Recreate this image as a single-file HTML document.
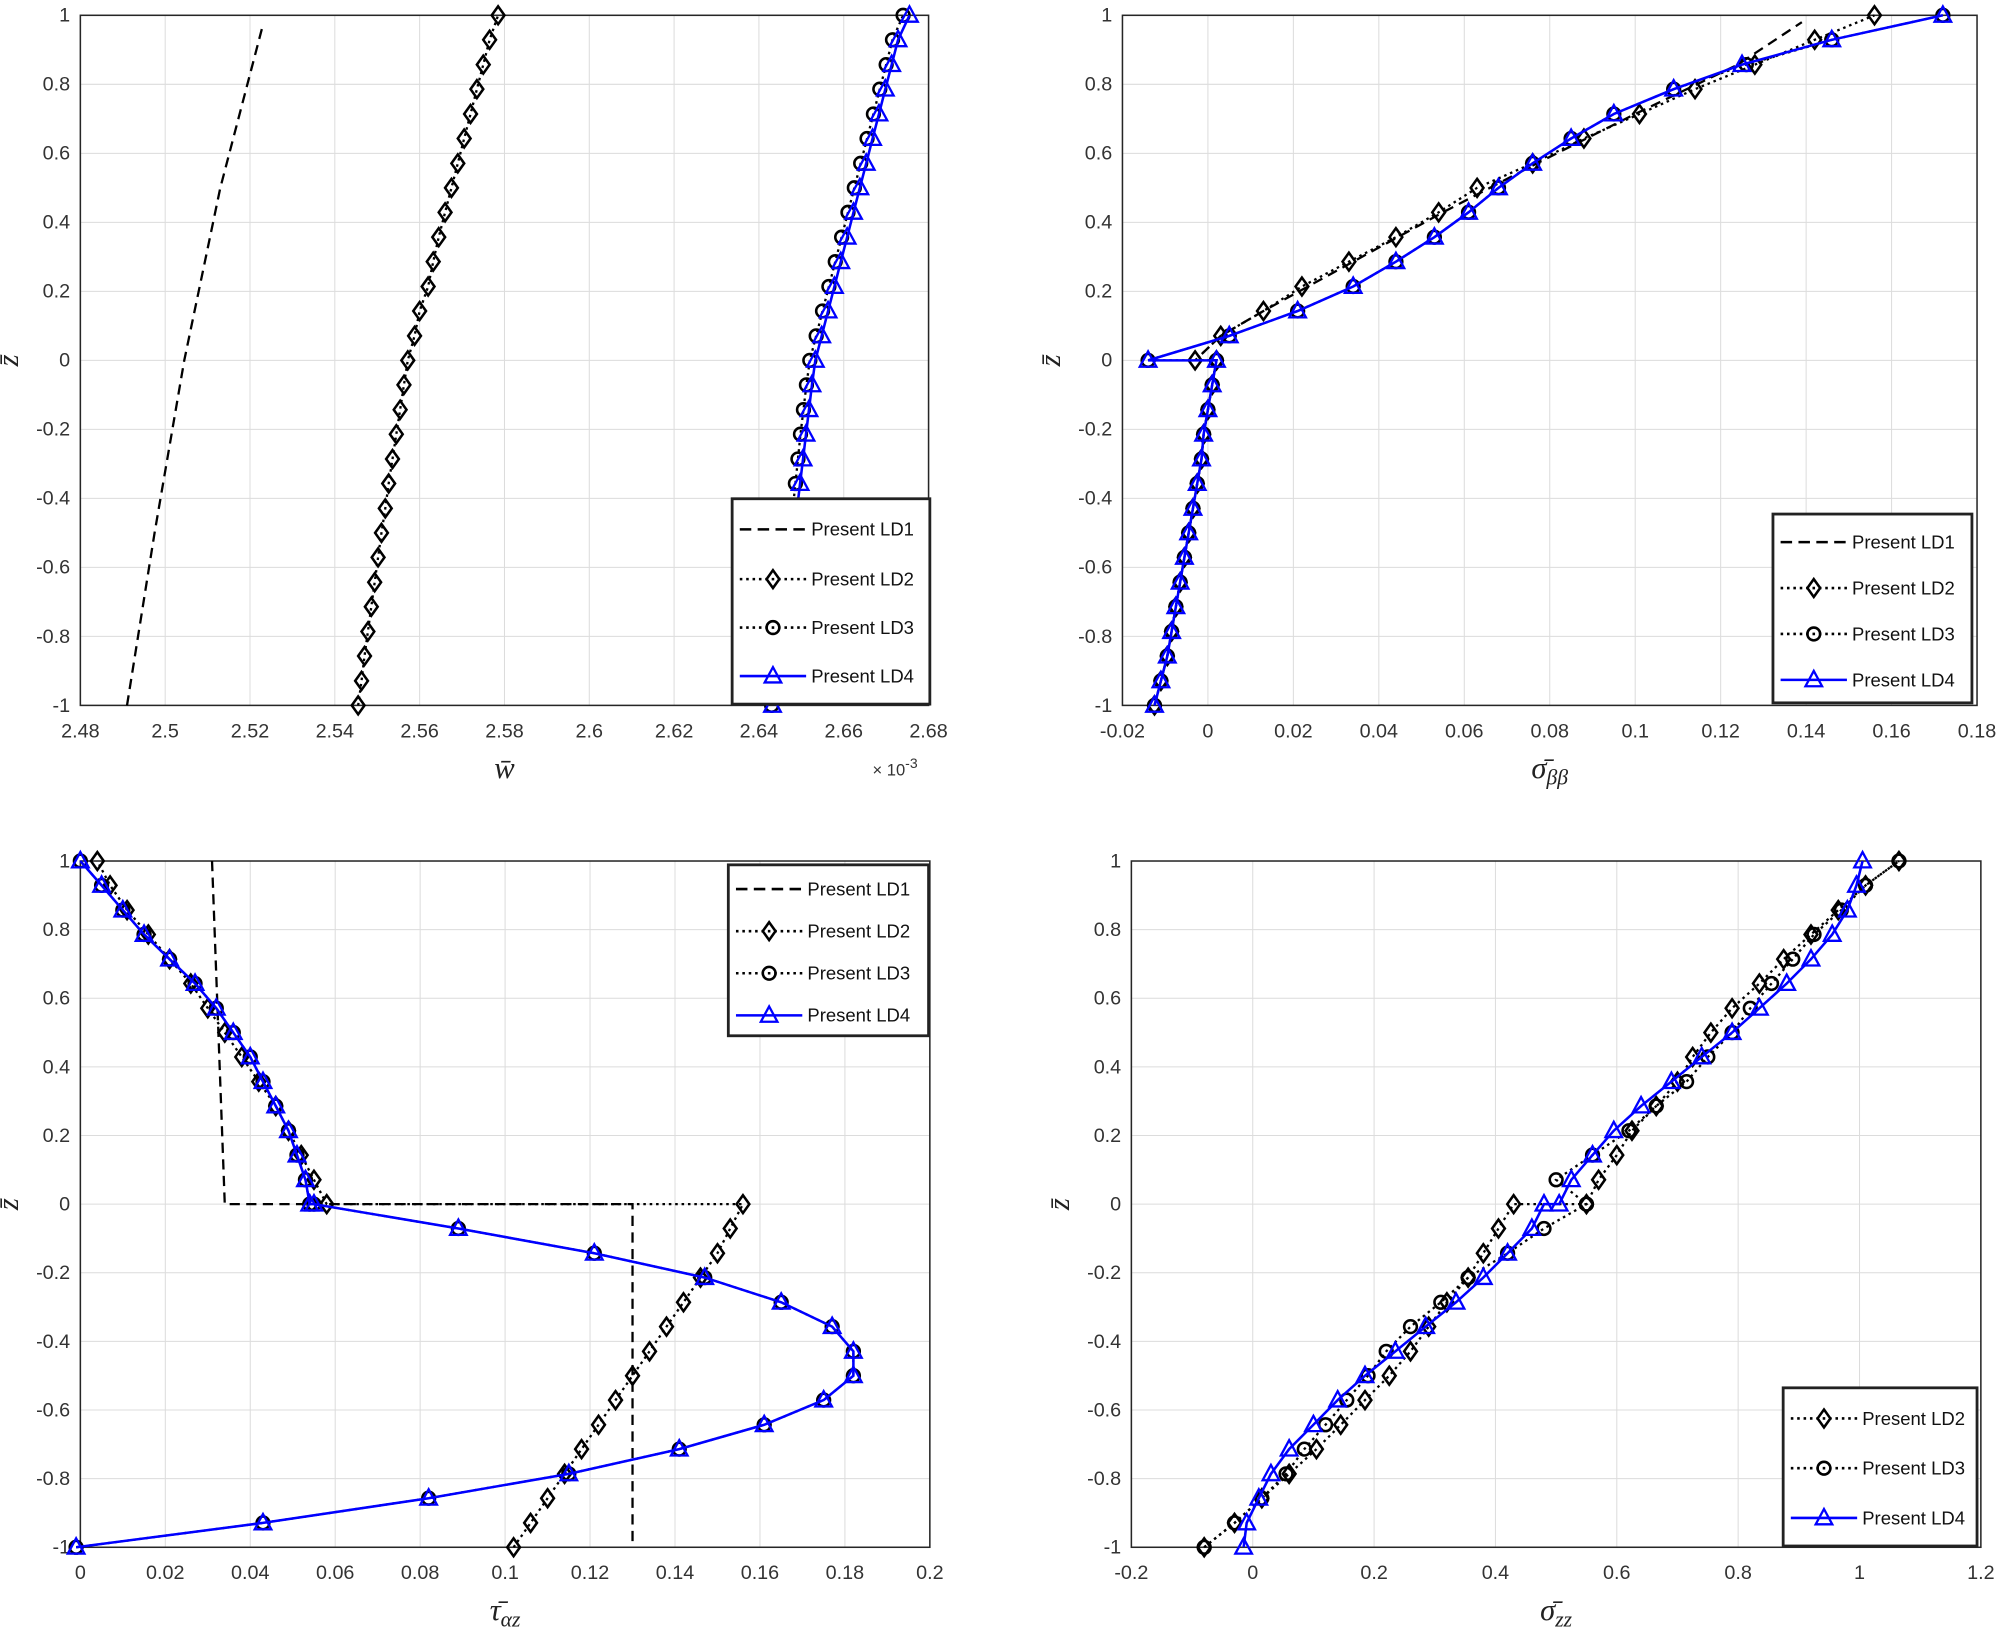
<!DOCTYPE html>
<html><head><meta charset="utf-8"><style>
html,body{margin:0;padding:0;background:#fff;}
svg{display:block;font-family:"Liberation Sans",sans-serif;}
</style></head><body>
<svg id="fig" width="2000" height="1627" viewBox="0 0 1568 1275.5" preserveAspectRatio="none" xmlns="http://www.w3.org/2000/svg"></svg>
<script>
// shared z grids
const zUp = [0,0.071,0.143,0.214,0.286,0.357,0.429,0.5,0.571,0.643,0.714,0.786,0.857,0.929,1];
const zDown = [-1,-0.929,-0.857,-0.786,-0.714,-0.643,-0.571,-0.5,-0.429,-0.357,-0.286,-0.214,-0.143,-0.071,0];

// Panel 1 (w bar, x1e-3)
const p1LD1z = [-1,-0.5,0,0.5,0.97];
const p1LD1 = [2.491,2.4975,2.5045,2.513,2.523];
const p1LD2Down = [2.5455,2.5463,2.5470,2.5478,2.5486,2.5494,2.5502,2.5510,2.5519,2.5527,2.5536,2.5545,2.5554,2.5563,2.5572];
const p1LD2Up = [2.5572,2.5588,2.5600,2.5620,2.5632,2.5645,2.5660,2.5675,2.5690,2.5705,2.5720,2.5735,2.5750,2.5765,2.5785];
const p1LD3Down = [2.6430,2.6437,2.6443,2.6450,2.6456,2.6462,2.6468,2.6474,2.6480,2.6486,2.6492,2.6498,2.6505,2.6512,2.6520];
const p1LD3Up = [2.6520,2.6535,2.6550,2.6565,2.6580,2.6595,2.6610,2.6625,2.6640,2.6655,2.6670,2.6685,2.6700,2.6715,2.6740];
const p1LD4Down = [2.6432,2.6445,2.6452,2.6459,2.6466,2.6472,2.6478,2.6484,2.6490,2.6497,2.6504,2.6511,2.6518,2.6525,2.6533];
const p1LD4Up = [2.6533,2.6548,2.6563,2.6578,2.6593,2.6608,2.6623,2.6638,2.6653,2.6668,2.6683,2.6698,2.6713,2.6728,2.6755];

// Panel 2 (sigma beta beta)
const p2Down = [-0.0125,-0.011,-0.0095,-0.0085,-0.0075,-0.0065,-0.0055,-0.0045,-0.0035,-0.0025,-0.0015,-0.001,0,0.001,0.002];
const p2LD1z = [0,0.071,0.143,0.286,0.429,0.571,0.714,0.857,0.98];
const p2LD1 = [-0.003,0.003,0.013,0.034,0.055,0.077,0.100,0.124,0.139];
const p2LD2Up = [-0.003,0.003,0.013,0.022,0.033,0.044,0.054,0.063,0.076,0.088,0.101,0.114,0.128,0.142,0.156];
const p2LD3Up = [-0.014,0.005,0.021,0.034,0.044,0.053,0.061,0.068,0.076,0.085,0.095,0.109,0.126,0.146,0.172];
const p2LD4Up = [-0.014,0.005,0.021,0.034,0.044,0.053,0.061,0.068,0.076,0.085,0.095,0.109,0.125,0.146,0.172];

// Panel 3 (tau alpha z)
const p3LD1z = [1,0,0,-1];
const p3LD1 = [0.031,0.034,0.130,0.130];
const p3LD2Up = [0.058,0.055,0.052,0.049,0.046,0.042,0.038,0.034,0.030,0.026,0.021,0.016,0.011,0.007,0.004];
const p3LD2Down = [0.102,0.106,0.110,0.114,0.118,0.122,0.126,0.130,0.134,0.138,0.142,0.146,0.150,0.153,0.156];
const p3LD3Up = [0.054,0.053,0.051,0.049,0.046,0.043,0.040,0.036,0.032,0.027,0.021,0.015,0.010,0.005,0];
const p3LD3Down = [-0.001,0.043,0.082,0.115,0.141,0.161,0.175,0.182,0.182,0.177,0.165,0.147,0.121,0.089,0.055];
const p3LD4Up = [0.054,0.053,0.051,0.049,0.046,0.043,0.040,0.036,0.032,0.027,0.021,0.015,0.010,0.005,0];
const p3LD4Down = [-0.001,0.043,0.082,0.115,0.141,0.161,0.175,0.182,0.182,0.177,0.165,0.147,0.121,0.089,0.055];

// Panel 4 (sigma zz)
const p4LD2Down = [-0.08,-0.03,0.015,0.06,0.105,0.145,0.185,0.225,0.26,0.29,0.32,0.355,0.38,0.405,0.43];
const p4LD2Up = [0.55,0.57,0.60,0.625,0.665,0.70,0.725,0.755,0.79,0.835,0.875,0.92,0.965,1.01,1.065];
const p4LD3Down = [-0.08,-0.03,0.015,0.055,0.085,0.12,0.155,0.19,0.22,0.26,0.31,0.355,0.42,0.48,0.55];
const p4LD3Up = [0.55,0.50,0.56,0.62,0.665,0.715,0.75,0.79,0.82,0.855,0.89,0.925,0.97,1.01,1.065];
const p4LD4Down = [-0.015,-0.01,0.01,0.03,0.06,0.10,0.14,0.185,0.235,0.285,0.335,0.38,0.42,0.46,0.48];
const p4LD4Up = [0.505,0.525,0.56,0.595,0.64,0.69,0.74,0.79,0.835,0.88,0.92,0.955,0.98,0.995,1.005];

const p1Ticks = ['2.48','2.5','2.52','2.54','2.56','2.58','2.6','2.62','2.64','2.66','2.68'];
const p2Ticks = ['-0.02','0','0.02','0.04','0.06','0.08','0.1','0.12','0.14','0.16','0.18'];
const p3Ticks = ['0','0.02','0.04','0.06','0.08','0.1','0.12','0.14','0.16','0.18','0.2'];
const p4Ticks = ['-0.2','0','0.2','0.4','0.6','0.8','1','1.2'];
const yTicks = ['-1','-0.8','-0.6','-0.4','-0.2','0','0.2','0.4','0.6','0.8','1'];

const NS='http://www.w3.org/2000/svg';
const svg=document.getElementById('fig');
function mk(tag,attrs,parent){const e=document.createElementNS(NS,tag);for(const k in attrs)e.setAttribute(k,attrs[k]);(parent||svg).appendChild(e);return e;}

function panel(name,box,xmin,xmax,xt,xlabel){
  const g=mk('g',{});
  
  
  const sx=v=>box.l+(v-xmin)/(xmax-xmin)*(box.r-box.l);
  const sy=v=>box.b-(v+1)/2*(box.b-box.t);
  mk('rect',{x:box.l,y:box.t,width:box.r-box.l,height:box.b-box.t,fill:'#fff'},g);
  const grid=mk('g',{stroke:'#dcdcdc','stroke-width':0.8},g);
  
  
  xt.forEach(t=>{const x=sx(parseFloat(t));mk('line',{x1:x,x2:x,y1:box.t,y2:box.b},grid);
    const tx=mk('text',{x:x,y:box.b+25,'font-size':15.5,fill:'#333','text-anchor':'middle'},g);tx.textContent=t;
    
    });
  yTicks.forEach(t=>{const y=sy(parseFloat(t));mk('line',{x1:box.l,x2:box.r,y1:y,y2:y},grid);
    const ty=mk('text',{x:box.l-8,y:y+5,'font-size':15.5,fill:'#333','text-anchor':'end'},g);ty.textContent=t;
    
    });
  mk('rect',{x:box.l,y:box.t,width:box.r-box.l,height:box.b-box.t,fill:'none',stroke:'#262626','stroke-width':1.2},g);
  const yl=mk('text',{x:box.l-55,y:(box.t+box.b)/2+6,'font-size':24,'font-style':'italic','font-family':'"Liberation Serif",serif',fill:'#222',transform:`rotate(-90 ${box.l-55} ${(box.t+box.b)/2})`,'text-anchor':'middle'},g);
  yl.textContent='z̄';
  
  
  const xl=mk('text',{x:(box.l+box.r)/2,y:box.b+57,'font-size':24,'font-style':'italic','font-family':'"Liberation Serif",serif',fill:'#222','text-anchor':'middle'},g);
  xl.innerHTML=xlabel;
  
  
  return {g,sx,sy,box};
}

function marker(g,type,x,y,color){
  if(type==='d') mk('polygon',{points:`${x},${y-7} ${x+5},${y} ${x},${y+7} ${x-5},${y}`,fill:'none',stroke:color,'stroke-width':2},g);
  else if(type==='o') mk('circle',{cx:x,cy:y,r:5,fill:'none',stroke:color,'stroke-width':2},g);
  else if(type==='t') mk('polygon',{points:`${x},${y-7} ${x+6.5},${y+5} ${x-6.5},${y+5}`,fill:'none',stroke:color,'stroke-width':1.8},g);
}
function series(P,name,xs,zs,style,mtype){
  const g=mk('g',{},P.g);
  
  
  const color=style==='solid'?'#0000ff':'#000';
  const dash=style==='dash'?'8,5':style==='dot'?'2,3':'none';
  const pts=xs.map((v,i)=>P.sx(v)+','+P.sy(zs[i])).join(' ');
  mk('polyline',{points:pts,fill:'none',stroke:color,'stroke-width':style==='solid'?2:1.8,'stroke-dasharray':dash},g);
  if(mtype) xs.forEach((v,i)=>marker(g,mtype,P.sx(v),P.sy(zs[i]),color));
}
function legend(P,x,y,w,h,entries,rowY){
  const g=mk('g',{},P.g);
  
  
  mk('rect',{x:x,y:y,width:w,height:h,fill:'#fff',stroke:'#222','stroke-width':2.2},g);
  entries.forEach((e,i)=>{
    const yy=rowY[i];
    const eg=mk('g',{},g);
    
    
    const color=e[1]==='solid'?'#0000ff':'#000';
    const dash=e[1]==='dash'?'9,5':e[1]==='dot'?'2,3':'none';
    mk('line',{x1:x+6,x2:x+58,y1:yy,y2:yy,stroke:color,'stroke-width':2,'stroke-dasharray':dash},eg);
    if(e[2]) marker(eg,e[2],x+32,yy,color);
    const t=mk('text',{x:x+62,y:yy+5,'font-size':14.5,fill:'#111'},eg);t.textContent=e[0];
  });
}
const zAll = zDown.concat(zUp);

// Panel 1
const P1=panel('panel-w',{l:63,r:728,t:12,b:553},2.48,2.68,p1Ticks,'w̄');
series(P1,'series-ld1',p1LD1,p1LD1z,'dash',null);
series(P1,'series-ld2',p1LD2Down.concat(p1LD2Up.slice(1)),zDown.concat(zUp.slice(1)),'dot','d');
series(P1,'series-ld3',p1LD3Down.concat(p1LD3Up.slice(1)),zDown.concat(zUp.slice(1)),'dot','o');
series(P1,'series-ld4',p1LD4Down.concat(p1LD4Up.slice(1)),zDown.concat(zUp.slice(1)),'solid','t');
{const t=mk('text',{x:684,y:608,'font-size':13,fill:'#333'},P1.g);t.innerHTML='× 10<tspan dy="-6" font-size="11">-3</tspan>';

}
legend(P1,574,391,155,161,[['Present LD1','dash',null],['Present LD2','dot','d'],['Present LD3','dot','o'],['Present LD4','solid','t']],[415,454,492,530]);

// Panel 2
const P2=panel('panel-sigma-bb',{l:880,r:1550,t:12,b:553},-0.02,0.18,p2Ticks,'σ̄<tspan font-size="17" dy="5">ββ</tspan>');
series(P2,'series-ld1',p2Down.concat(p2LD1),zDown.concat(p2LD1z),'dash',null);
series(P2,'series-ld2',p2Down.concat(p2LD2Up),zAll,'dot','d');
series(P2,'series-ld3',p2Down.concat(p2LD3Up),zAll,'dot','o');
series(P2,'series-ld4',p2Down.concat(p2LD4Up),zAll,'solid','t');
legend(P2,1390,403,156,148,[['Present LD1','dash',null],['Present LD2','dot','d'],['Present LD3','dot','o'],['Present LD4','solid','t']],[425,461,497,533]);

// Panel 3
const P3=panel('panel-tau-az',{l:63,r:729,t:675,b:1213},0,0.2,p3Ticks,'τ̄<tspan font-size="17" dy="5">αz</tspan>');
series(P3,'series-ld1',p3LD1,p3LD1z,'dash',null);
series(P3,'series-ld2',p3LD2Down.concat(p3LD2Up),zAll,'dot','d');
series(P3,'series-ld3',p3LD3Down.concat(p3LD3Up),zAll,'dot','o');
series(P3,'series-ld4',p3LD4Down.concat(p3LD4Up),zAll,'solid','t');
legend(P3,571,678,157,134,[['Present LD1','dash',null],['Present LD2','dot','d'],['Present LD3','dot','o'],['Present LD4','solid','t']],[697,730,763,796]);

// Panel 4
const P4=panel('panel-sigma-zz',{l:887,r:1553,t:675,b:1213},-0.2,1.2,p4Ticks,'σ̄<tspan font-size="17" dy="5">zz</tspan>');
series(P4,'series-ld2',p4LD2Down.concat(p4LD2Up),zAll,'dot','d');
series(P4,'series-ld3',p4LD3Down.concat(p4LD3Up),zAll,'dot','o');
series(P4,'series-ld4',p4LD4Down.concat(p4LD4Up),zAll,'solid','t');
legend(P4,1398,1088,152,124,[['Present LD2','dot','d'],['Present LD3','dot','o'],['Present LD4','solid','t']],[1112,1151,1190]);
</script>
</body></html>
